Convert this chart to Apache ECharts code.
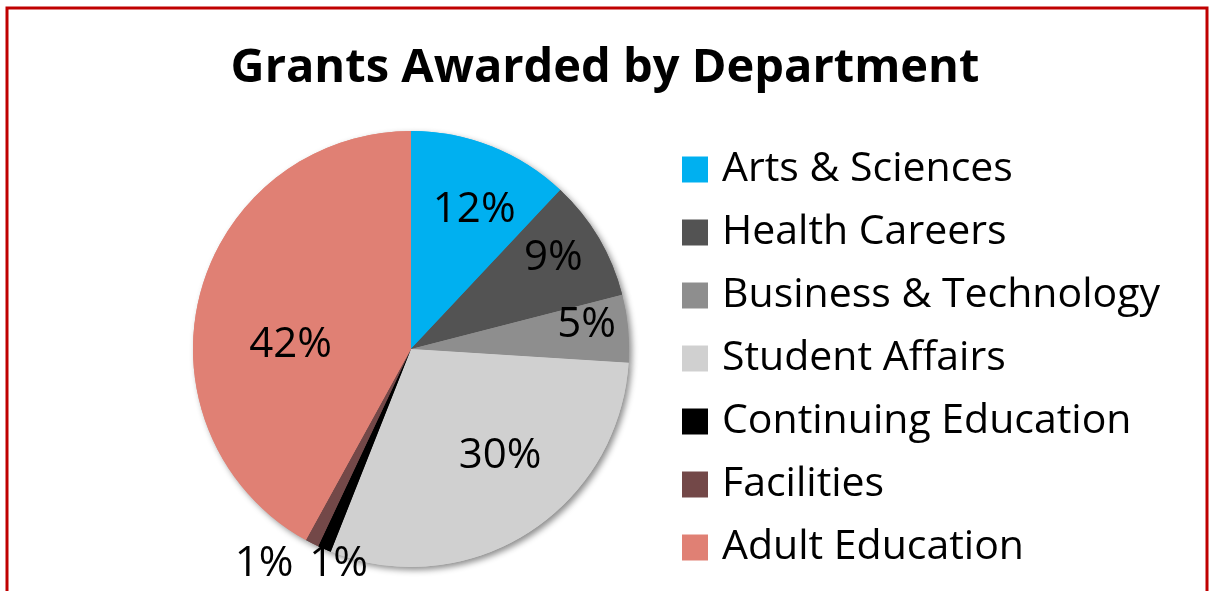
<!DOCTYPE html>
<html>
<head>
<meta charset="utf-8">
<script src="https://cdn.jsdelivr.net/npm/echarts@6/dist/echarts.min.js"></script>
<style>
  html, body { margin: 0; padding: 0; background: #fff; }
  #chart { width: 1210px; height: 591px; }
</style>
</head>
<body>
<div id="chart"></div>
<script>
// 数据
const departments = ['Arts & Sciences', 'Health Careers', 'Business & Technology', 'Student Affairs', 'Continuing Education', 'Facilities', 'Adult Education']
const shares = [12, 9, 5, 30, 1, 1, 42]
const colors = ['#00b0f0', '#535353', '#8e8e8e', '#d0d0d0', '#000000', '#734848', '#e08074']
// label nudges, like Excel best-fit
const labelOffsets = [[22, -35], [46, -34], [64, -13], [29, 12], [-28, 112], [-96, 115], [-12, 24]]

const FONT = '"Open Sans", Lato, sans-serif'
const chart = echarts.init(document.getElementById('chart'))

const pieData = departments.map((name, i) => ({
  name,
  value: shares[i],
  itemStyle: { color: colors[i] },
  label: { offset: labelOffsets[i] }
}))

const option = {
  backgroundColor: '#fff',
  animation: false,
  title: {
    text: 'Grants Awarded by Department',
    left: 'center',
    top: 40,
    textStyle: { fontFamily: FONT, fontWeight: 'bold', fontSize: 47, color: '#000' }
  },
  legend: {
    orient: 'vertical',
    left: 677,
    top: 144,
    itemWidth: 26,
    itemHeight: 26,
    itemGap: 22,
    icon: 'rect',
    data: departments,
    textStyle: { fontFamily: FONT, fontSize: 41, color: '#000', padding: [0, 0, 0, 9] }
  },
  graphic: [
    {
      type: 'rect',
      shape: { x: 7, y: 8, width: 1200, height: 620 },
      style: { fill: 'none', stroke: '#c00000', lineWidth: 3 },
      z: 100
    }
  ],
  series: [
    {
      // shadow underlay
      type: 'pie',
      silent: true,
      center: [411, 349],
      radius: 218,
      label: { show: false },
      labelLine: { show: false },
      itemStyle: { shadowBlur: 6, shadowOffsetX: 3, shadowOffsetY: 3, shadowColor: 'rgba(0,0,0,0.45)' },
      data: departments.map((name, i) => ({ name, value: shares[i], itemStyle: { color: colors[i] } })),
      z: 1
    },
    {
      type: 'pie',
      center: [411, 349],
      radius: 218,
      avoidLabelOverlap: false,
      label: {
        show: true,
        position: 'inside',
        formatter: '{d}%',
        fontFamily: FONT,
        fontSize: 42,
        color: '#000'
      },
      labelLine: { show: false },
      data: pieData,
      z: 2
    }
  ]
}
chart.setOption(option)
</script>
</body>
</html>
